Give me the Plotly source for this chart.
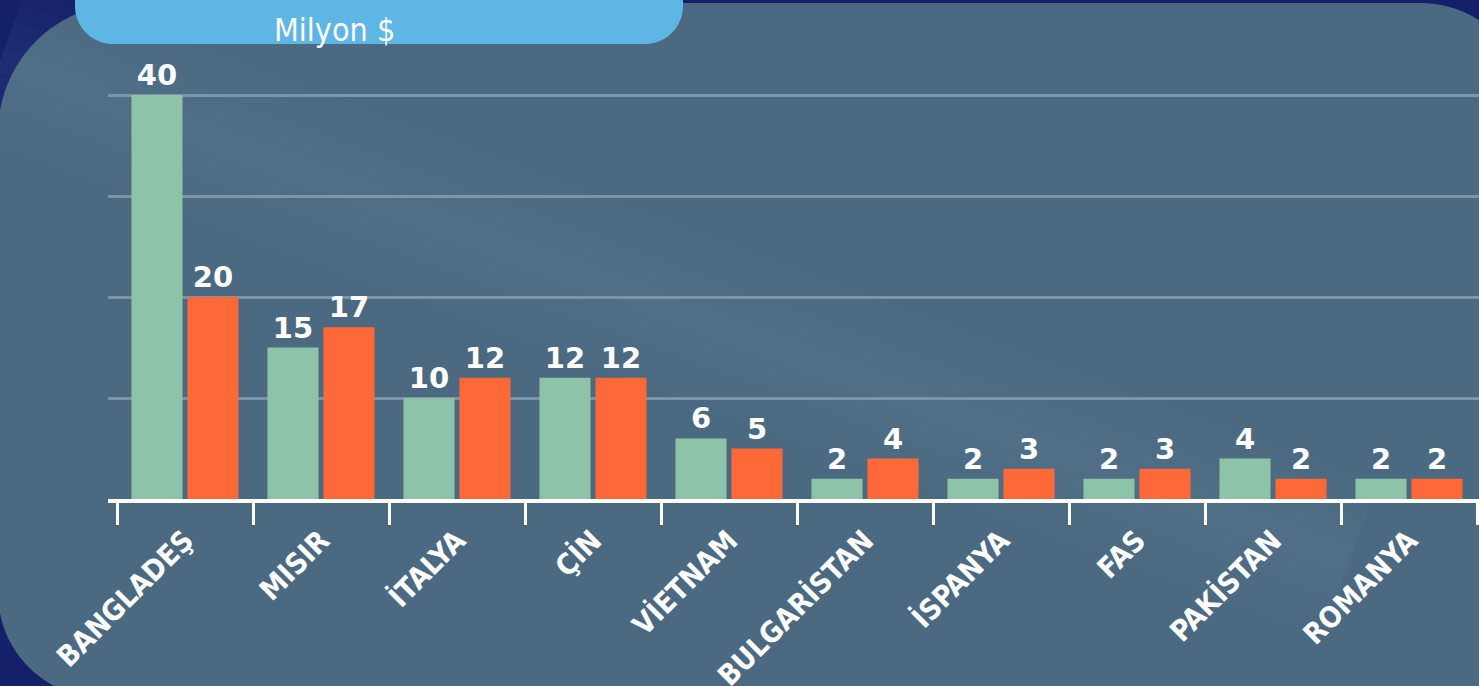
import math
import plotly.graph_objects as go

# ---------------- data ----------------
categories = ["BANGLADEŞ", "MISIR", "İTALYA", "ÇİN", "VİETNAM",
              "BULGARİSTAN", "İSPANYA", "FAS", "PAKİSTAN", "ROMANYA"]
series_a = [40, 15, 10, 12, 6, 2, 2, 2, 4, 2]
series_b = [20, 17, 12, 12, 5, 4, 3, 3, 2, 2]
unit_label = "Milyon $"

# ---------------- styling ----------------
W, H = 1479, 686
NAVY = "#15206a"
PANEL = "#4b6a82"
TAB = "#5db6e4"
GREEN = "#8dc3a7"
ORANGE = "#ff6937"
GRID = "#7d95a8"


def px(x):
    return x / W


def py(y):
    return 1 - y / H


def arc(cx, cy, r, a0, a1, n=24):
    pts = []
    for i in range(n + 1):
        t = math.radians(a0 + (a1 - a0) * i / n)
        pts.append((cx + r * math.cos(t), cy + r * math.sin(t)))
    return pts


def path_from(points):
    return "M " + " L ".join(f"{px(x):.5f},{py(y):.5f}" for x, y in points) + " Z"


# panel with rounded corners (pixel coordinates)
panel_pts = []
panel_pts += arc(128, 133, 130, 180, 270)
panel_pts += arc(1420, 113, 110, 270, 360)
panel_pts += [(1530, 720), (103, 720)]
panel_pts += [(103, 698)] + arc(103, 593, 105, 90, 180)

# tab
tab_pts = [(75, -30), (683, -30)]
tab_pts += arc(645, 6, 38, 0, 90)
tab_pts += arc(113, 6, 38, 90, 180)

shapes = [
    dict(type="path", xref="paper", yref="paper", path=path_from(panel_pts),
         fillcolor=PANEL, line=dict(width=0), layer="below"),
]


def band(x0, y0, x1, y1, hw):
    dx, dy = x1 - x0, y1 - y0
    L = math.hypot(dx, dy)
    nx, ny = -dy / L * hw, dx / L * hw
    return [(x0 + nx, y0 + ny), (x1 + nx, y1 + ny), (x1 - nx, y1 - ny), (x0 - nx, y0 - ny)]


# soft diagonal light streak
for hw in (80, 60, 42, 26, 12):
    shapes.append(dict(type="path", xref="paper", yref="paper",
                       path=path_from(band(0, 60, 1350, 560, hw)),
                       fillcolor="rgba(140,175,200,0.025)", line=dict(width=0), layer="below"))

shapes.append(dict(type="path", xref="paper", yref="paper", path=path_from(tab_pts),
                   fillcolor=TAB, line=dict(width=0), layer="above"))

label_font = dict(family="DejaVu Sans", size=29, color="white", weight="bold")

fig = go.Figure()
fig.add_trace(go.Bar(x=categories, y=series_a, marker_color=GREEN, marker_line_width=0,
                     text=series_a, textposition="outside", cliponaxis=False,
                     textfont=label_font, showlegend=False, hoverinfo="x+y"))
fig.add_trace(go.Bar(x=categories, y=series_b, marker_color=ORANGE, marker_line_width=0,
                     text=series_b, textposition="outside", cliponaxis=False,
                     textfont=label_font, showlegend=False, hoverinfo="x+y"))

fig.update_layout(
    width=W, height=H,
    margin=dict(l=0, r=0, t=0, b=0, autoexpand=False),
    paper_bgcolor=NAVY,
    plot_bgcolor="rgba(0,0,0,0)",
    barmode="group",
    bargap=0.176,
    bargroupgap=0.089,
    shapes=shapes,
    annotations=[dict(text=unit_label, xref="paper", yref="paper", x=px(334), y=py(30),
                      xanchor="center", yanchor="middle", showarrow=False,
                      font=dict(family="DejaVu Sans Condensed", size=32, color="white"))],
    xaxis=dict(domain=[px(108), 1.0], range=[-0.5 - 9 / 136, 9.5 + 2 / 136],
               automargin=False,
               showline=True, linecolor="white", linewidth=4,
               ticks="outside", ticklen=22, tickwidth=3, tickcolor="white",
               tickson="boundaries", tickangle=-45, showgrid=False,
               ticklabelstandoff=9,
               tickfont=dict(family="DejaVu Sans Condensed", size=29, color="white", weight="bold")),
    yaxis=dict(domain=[py(499), py(499 - 44 * 10.1)], range=[0, 44],
               automargin=False,
               showgrid=True, gridcolor=GRID, gridwidth=3, dtick=10, tick0=0,
               showticklabels=False, zeroline=False, showline=False, ticks=""),
)

fig.write_html("out.html", config={"displayModeBar": False},
               post_script="document.body.style.margin='0';document.body.style.overflow='hidden';")
